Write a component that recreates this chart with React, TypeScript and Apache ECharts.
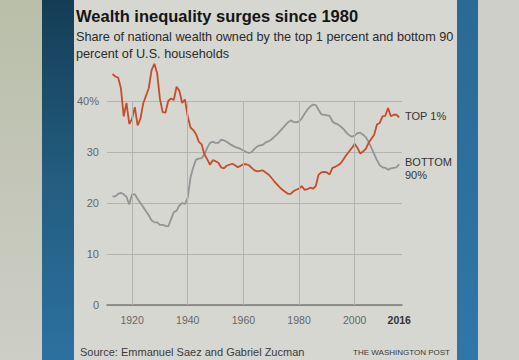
import React, { useEffect, useRef } from "react";
import * as echarts from "echarts";

const years: number[] = [];
for (let y = 1913; y <= 2016; y++) years.push(y);

const top1: number[] = [
  45.3, 44.8, 44.6, 42.5, 37.0, 39.6, 35.5, 36.5, 38.8, 35.2, // 1913-1922
  36.5, 39.5, 41.0, 42.5, 46.0, 47.3, 45.5, 40.5, 37.8, 37.7, // 1923-1932
  40.0, 40.5, 40.2, 42.8, 42.0, 39.6, 40.3, 37.0, 34.8, 34.3, // 1933-1942
  33.5, 32.0, 31.5, 29.5, 28.6, 27.5, 28.4, 28.2, 27.9, 27.0, // 1943-1952
  26.8, 27.3, 27.5, 27.7, 27.4, 27.0, 27.3, 27.6, 27.6, 27.4, // 1953-1962
  26.9, 26.4, 26.2, 26.3, 26.4, 26.0, 25.6, 25.0, 24.3, 23.7, // 1963-1972
  23.1, 22.6, 22.2, 21.8, 21.8, 22.3, 22.6, 22.8, 23.3, 22.6, // 1973-1982
  22.7, 23.0, 22.8, 23.3, 25.5, 26.0, 26.1, 26.0, 25.6, 26.9, // 1983-1992
  27.1, 27.4, 27.8, 28.6, 29.4, 30.1, 30.8, 31.6, 30.8, 29.7, // 1993-2002
  30.1, 30.6, 31.8, 32.6, 33.4, 35.4, 35.7, 37.0, 37.1, 38.6, // 2003-2012
  37.0, 37.3, 37.3, 36.8, // 2013-2016
];

const bottom90: number[] = [
  21.3, 21.3, 21.8, 22.0, 21.7, 21.2, 19.7, 21.7, 21.7, 20.8, // 1913-1922
  20.0, 19.2, 18.4, 17.6, 16.6, 16.2, 16.2, 15.7, 15.7, 15.5, // 1923-1932
  15.4, 16.8, 18.2, 18.5, 19.5, 20.0, 19.8, 21.0, 25.0, 27.0, // 1933-1942
  28.5, 28.7, 28.8, 29.5, 30.8, 31.8, 32.0, 31.8, 31.8, 32.4, // 1943-1952
  32.3, 32.0, 31.6, 31.3, 31.0, 30.8, 30.6, 30.3, 30.0, 29.8, // 1953-1962
  30.0, 30.6, 31.1, 31.3, 31.4, 31.9, 32.1, 32.4, 32.9, 33.4, // 1963-1972
  34.0, 34.6, 35.2, 35.8, 36.2, 35.9, 35.8, 36.0, 36.6, 37.5, // 1973-1982
  38.3, 38.9, 39.3, 39.2, 38.3, 37.4, 37.3, 37.2, 37.1, 36.0, // 1983-1992
  35.6, 35.4, 35.0, 34.5, 33.8, 33.3, 33.0, 33.2, 33.7, 33.8, // 1993-2002
  33.4, 32.9, 32.0, 30.8, 29.6, 28.4, 27.4, 27.0, 26.9, 26.5, // 2003-2012
  26.8, 26.9, 27.0, 27.6, // 2013-2016
];

const xTickLabels: number[] = [1920, 1940, 1960, 1980, 2000, 2016];
const xGridYears: number[] = [1920, 1940, 1960, 1980, 2000];

const title = "Wealth inequality surges since 1980";
const subtitle1 = "Share of national wealth owned by the top 1 percent and bottom 90";
const subtitle2 = "percent of U.S. households";
const source = "Source: Emmanuel Saez and Gabriel Zucman";
const credit = "THE WASHINGTON POST";

export default function App() {
  const ref = useRef<HTMLDivElement>(null);
  useEffect(() => {
    if (!ref.current) return;
    const chart = echarts.init(ref.current, undefined, { renderer: "svg" });
    const topData = years.map((y, i) => [y, top1[i]]);
    const botData = years.map((y, i) => [y, bottom90[i]]);
    const font = "Liberation Sans, Arial, sans-serif";
    const lg = (stops: [number, string][]) =>
      new echarts.graphic.LinearGradient(0, 0, 0, 1, stops.map(([o, c]) => ({ offset: o, color: c })));
    chart.setOption({
      animation: false,
      backgroundColor: "#d7d7d1",
      grid: { left: 107, right: 117, top: 101, bottom: 55 },
      xAxis: {
        type: "value",
        min: 1911,
        max: 2017,
        axisLine: { show: true, lineStyle: { color: "#7a7a76", width: 1.5 } },
        axisTick: { show: false },
        splitLine: { show: false },
        axisLabel: {
          customValues: xTickLabels,
          margin: 9,
          color: "#666",
          fontSize: 10.5,
          fontFamily: font,
          formatter: (v: number) => (v === 2016 ? "{b|2016}" : String(v)),
          rich: { b: { fontWeight: "bold", color: "#333", fontSize: 10.5, fontFamily: font } },
        },
      },
      yAxis: {
        type: "value",
        min: 0,
        max: 40,
        interval: 10,
        axisLine: { show: false },
        axisTick: { show: false },
        splitLine: { show: true, lineStyle: { color: "#b4b4ae", width: 1 } },
        axisLabel: {
          margin: 8,
          color: "#666",
          fontSize: 11,
          fontFamily: font,
          formatter: (v: number) => (v === 40 ? "40%" : v === 0 ? "0" : String(v)),
        },
      },
      series: [
        {
          name: "grid",
          type: "line",
          data: botData,
          showSymbol: false,
          lineStyle: { opacity: 0 },
          z: 1,
          silent: true,
          markLine: {
            silent: true,
            symbol: "none",
            label: { show: false },
            lineStyle: { color: "#b4b4ae", width: 1, type: "solid" },
            data: xGridYears.map((y) => ({ xAxis: y })),
          },
        },
        {
          name: "Bottom 90%",
          type: "line",
          data: botData,
          showSymbol: false,
          clip: false,
          lineStyle: { color: "#919595", width: 1.8 },
          z: 3,
        },
        {
          name: "Top 1%",
          type: "line",
          data: topData,
          showSymbol: false,
          clip: false,
          lineStyle: { color: "#c64c2a", width: 1.8 },
          z: 4,
        },
      ],
      graphic: [
        { type: "rect", z: -10, shape: { x: 0, y: 0, width: 43, height: 360 }, style: { fill: lg([[0, "#b9bea9"], [1, "#cdcec6"]]) } },
        { type: "rect", z: -10, shape: { x: 42, y: 0, width: 32, height: 360 }, style: { fill: lg([[0, "#143d55"], [0.5, "#235d80"], [1, "#2d71a0"]]) } },
        { type: "rect", z: -10, shape: { x: 457, y: 0, width: 21, height: 360 }, style: { fill: lg([[0, "#2a6a95"], [1, "#2f77a8"]]) } },
        { type: "rect", z: -10, shape: { x: 478, y: 0, width: 41, height: 360 }, style: { fill: "#cfcfc9" } },
        { type: "text", z: 100, x: 76, y: 16, style: { text: title, font: `bold 16.5px ${font}`, fill: "#151515", textVerticalAlign: "middle" } },
        { type: "text", z: 100, x: 76, y: 37, style: { text: subtitle1, font: `12.7px ${font}`, fill: "#2a2a2a", textVerticalAlign: "middle" } },
        { type: "text", z: 100, x: 76, y: 54, style: { text: subtitle2, font: `12.7px ${font}`, fill: "#2a2a2a", textVerticalAlign: "middle" } },
        { type: "text", z: 100, x: 405, y: 116, style: { text: "TOP 1%", font: `11px ${font}`, fill: "#333", textVerticalAlign: "middle" } },
        { type: "text", z: 100, x: 405, y: 162, style: { text: "BOTTOM", font: `11px ${font}`, fill: "#333", textVerticalAlign: "middle" } },
        { type: "text", z: 100, x: 405, y: 175, style: { text: "90%", font: `11px ${font}`, fill: "#333", textVerticalAlign: "middle" } },
        { type: "text", z: 100, x: 80, y: 352, style: { text: source, font: `11px ${font}`, fill: "#3a3a3a", textVerticalAlign: "middle" } },
        { type: "text", z: 100, x: 450, y: 352, style: { text: credit, font: `8px ${font}`, fill: "#3a3a3a", textAlign: "right", textVerticalAlign: "middle" } },
      ],
    });
    return () => chart.dispose();
  }, []);
  return <div ref={ref} style={{ position: "fixed", left: 0, top: 0, width: 519, height: 360 }} />;
}
